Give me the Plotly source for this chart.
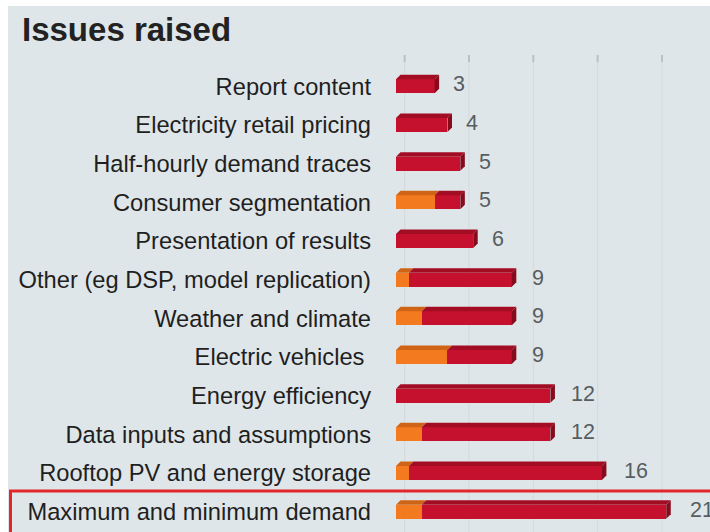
import plotly.graph_objects as go

# ---- data ----
categories = [
    "Report content",
    "Electricity retail pricing",
    "Half-hourly demand traces",
    "Consumer segmentation",
    "Presentation of results",
    "Other (eg DSP, model replication)",
    "Weather and climate",
    "Electric vehicles\u00a0",
    "Energy efficiency",
    "Data inputs and assumptions",
    "Rooftop PV and energy storage",
    "Maximum and minimum demand",
]
orange_vals = [0, 0, 0, 3, 0, 1, 2, 4, 0, 2, 1, 2]
red_vals = [3, 4, 5, 2, 6, 8, 7, 5, 12, 10, 15, 19]
grid_ticks = [0, 5, 10, 15, 20]

# ---- style ----
W, H = 710, 532
L, R, T, B = 396, 0, 67, 1
XMAX = 24.4
BG = "#dfe6e9"
ORANGE = "#f47a20"
ORANGE_TOP = "#cf6417"
RED = "#c5112e"
RED_TOP = "#a30d24"
RED_END = "#870a1d"
BAR_W = 0.36

pw = W - L - R
ph = H - T - B
ux = XMAX / pw          # x units per px
uy = 12.0 / ph          # y units per px
DX = 4.5 * ux
DY = 4.5 * uy

def pxx(px):
    return (px - L) / pw

def pxy(py):
    return (H - B - py) / ph

idx = list(range(len(categories)))
totals = [o + r for o, r in zip(orange_vals, red_vals)]

fig = go.Figure()
fig.add_trace(go.Bar(y=idx, x=orange_vals, orientation="h", marker=dict(color=ORANGE, line=dict(width=0)),
                     width=BAR_W, hoverinfo="skip", showlegend=False))
fig.add_trace(go.Bar(y=idx, x=red_vals, orientation="h", marker=dict(color=RED, line=dict(width=0)),
                     width=BAR_W, hoverinfo="skip", showlegend=False))

shapes = []
# white frame strips (screenshot border)
shapes.append(dict(type="rect", xref="paper", yref="paper", x0=pxx(-5), x1=pxx(8), y0=pxy(H + 5), y1=pxy(-5),
                   fillcolor="white", line=dict(width=0), layer="above"))
shapes.append(dict(type="rect", xref="paper", yref="paper", x0=pxx(-5), x1=pxx(W + 5), y0=pxy(6), y1=pxy(-5),
                   fillcolor="white", line=dict(width=0), layer="above"))

# gridlines on back wall
goff = 0.67
for t in grid_ticks:
    shapes.append(dict(type="line", xref="x", yref="paper", x0=t + goff, x1=t + goff, y0=pxy(H), y1=pxy(55),
                       line=dict(color="#d2d9dc", width=1), layer="below"))
    shapes.append(dict(type="line", xref="x", yref="paper", x0=t + goff, x1=t + goff, y0=pxy(62), y1=pxy(55),
                       line=dict(color="#b9c1c4", width=2), layer="below"))

# 3D faces
for i, (o, r) in enumerate(zip(orange_vals, red_vals)):
    ytop = i - BAR_W / 2
    ybot = i + BAR_W / 2
    segs = []
    if o > 0:
        segs.append((0, o, ORANGE_TOP))
    segs.append((o, o + r, RED_TOP))
    for a, b, c in segs:
        path = f"M {a},{ytop} L {a + DX},{ytop - DY} L {b + DX},{ytop - DY} L {b},{ytop} Z"
        shapes.append(dict(type="path", xref="x", yref="y", path=path, fillcolor=c,
                           line=dict(width=0), layer="above"))
    b = o + r
    path = f"M {b},{ytop} L {b + DX},{ytop - DY} L {b + DX},{ybot - DY} L {b},{ybot} Z"
    shapes.append(dict(type="path", xref="x", yref="y", path=path, fillcolor=RED_END,
                       line=dict(width=0), layer="above"))

# highlight box
shapes.append(dict(type="rect", xref="paper", yref="paper", x0=pxx(10.5), x1=pxx(W + 20), y0=pxy(H + 20), y1=pxy(491),
                   fillcolor="rgba(0,0,0,0)", line=dict(color="#e3262b", width=3), layer="above"))

annotations = []
for i, tot in enumerate(totals):
    annotations.append(dict(x=tot, y=i, xref="x", yref="y", text=str(tot), showarrow=False,
                            xanchor="left", yanchor="middle", xshift=15 + 0.3 * tot, yshift=2,
                            font=dict(family="Liberation Sans, Arial, sans-serif", size=21.5, color="#575d60")))

fig.update_layout(
    width=W, height=H,
    margin=dict(l=L, r=R, t=T, b=B, pad=0),
    paper_bgcolor=BG, plot_bgcolor=BG,
    barmode="stack", bargap=0,
    title=dict(text="<b>Issues raised</b>", x=22 / W, xanchor="left", xref="container",
               y=1 - 29 / H, yanchor="middle", yref="container",
               font=dict(family="Liberation Sans, Arial, sans-serif", size=33, color="#222222")),
    xaxis=dict(range=[0, XMAX], showgrid=False, zeroline=False, showticklabels=False, ticks="", fixedrange=True),
    yaxis=dict(range=[11.5, -0.5], tickmode="array", tickvals=idx, ticktext=categories,
               showgrid=False, zeroline=False, ticks="", ticklabelstandoff=24,
               tickfont=dict(family="Liberation Sans, Arial, sans-serif", size=23.7, color="#1f1f1f")),
    shapes=shapes, annotations=annotations,
    font=dict(family="Liberation Sans, Arial, sans-serif"),
)

fig.write_html("out.html")
